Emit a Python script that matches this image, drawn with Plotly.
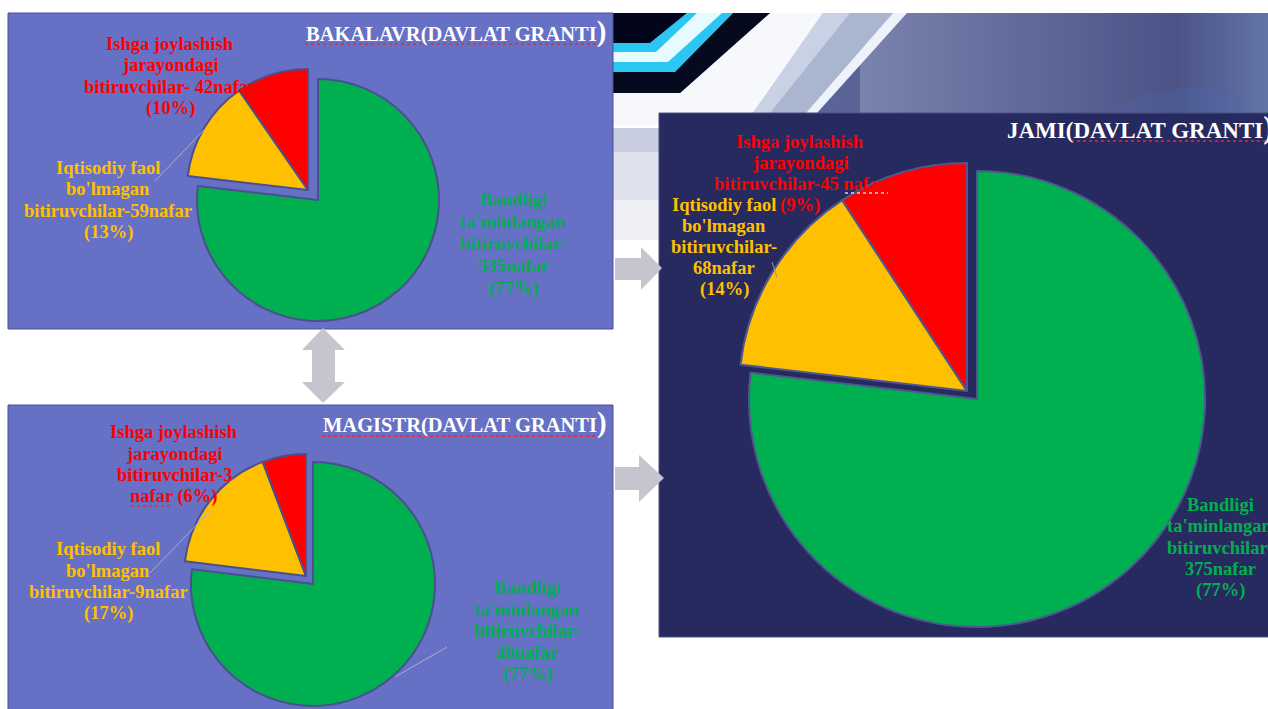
import plotly.graph_objects as go

W, H = 1268, 709

# ---------------- data ----------------
categories = ["Ishga joylashish jarayondagi bitiruvchilar",
              "Iqtisodiy faol bo'lmagan bitiruvchilar",
              "Bandligi ta'minlangan bitiruvchilar"]
bakalavr_values = [42, 59, 335]
magistr_values = [3, 9, 40]
jami_values = [45, 68, 375]

bakalavr_pct = ["10%", "13%", "77%"]
magistr_pct = ["6%", "17%", "77%"]
jami_pct = ["9%", "14%", "77%"]

titles = ["BAKALAVR(DAVLAT GRANTI", "MAGISTR(DAVLAT GRANTI", "JAMI(DAVLAT GRANTI"]

slice_colors = ["#ff0000", "#ffc000", "#00b050"]
text_colors = ["#ff0000", "#ffc000", "#00b050"]

# ---------------- helpers ----------------
def px(x):
    return x / W

def py(y):
    return 1 - y / H

def poly(points, fill, line=None, lw=0, layer="below", opacity=1):
    d = "M " + " L ".join(f"{px(x):.5f},{py(y):.5f}" for x, y in points) + " Z"
    return dict(type="path", xref="paper", yref="paper", path=d,
                fillcolor=fill, line=dict(color=line or fill, width=lw),
                layer=layer, opacity=opacity)

def rect(x0, y0, x1, y1, fill, line=None, lw=0, layer="below", opacity=1):
    return dict(type="rect", xref="paper", yref="paper",
                x0=px(x0), x1=px(x1), y0=py(y1), y1=py(y0),
                fillcolor=fill, line=dict(color=line or fill, width=lw),
                layer=layer, opacity=opacity)

def seg(x0, y0, x1, y1, color, width=1, dash="solid", layer="above"):
    return dict(type="line", xref="paper", yref="paper",
                x0=px(x0), y0=py(y0), x1=px(x1), y1=py(y1),
                line=dict(color=color, width=width, dash=dash), layer=layer)

def lerp_color(c1, c2, t):
    a = [int(c1[i:i + 2], 16) for i in (1, 3, 5)]
    b = [int(c2[i:i + 2], 16) for i in (1, 3, 5)]
    return "#" + "".join(f"{int(round(a[k] + (b[k] - a[k]) * t)):02x}" for k in range(3))

shapes = []

# ---------------- decorative background (tech picture) ----------------
shapes.append(rect(613, 13, 1268, 120, "#5b6496"))
n = 70
x_start = 860
for i in range(n):
    x0 = x_start + i * (1268 - x_start) / n
    x1 = x_start + (i + 1) * (1268 - x_start) / n + 0.8
    t = i / (n - 1)
    if t < 0.78:
        c = lerp_color("#7a82ae", "#4b5387", t / 0.78)
    else:
        c = lerp_color("#4b5387", "#6273a6", (t - 0.78) / 0.22)
    shapes.append(rect(x0, 13, x1, 120, c))
shapes.append(poly([(1110, 113), (1140, 95), (1190, 86), (1235, 93), (1250, 113)],
                   "#5068a8", opacity=0.3))
# light grey-blue band
shapes.append(poly([(823, 13), (893, 13), (810, 113), (753, 113)], "#aab6cf"))
shapes.append(poly([(823, 13), (850, 13), (770, 113), (753, 113)], "#c9d2e4"))
# thin white line
shapes.append(poly([(893, 13), (907, 13), (817, 113), (806, 113)], "#eef2fa"))
# white band
shapes.append(poly([(770, 13), (823, 13), (753, 113), (659, 113), (659, 125),
                    (613, 125), (613, 93), (680, 93)], "#f6f8fc"))
# black band 2
shapes.append(poly([(733, 13), (770, 13), (680, 93), (613, 93), (613, 72), (675, 72)], "#050a1e"))
# black top-left
shapes.append(poly([(613, 13), (687, 13), (650, 43), (613, 43)], "#03061a"))
# cyan band
shapes.append(poly([(687, 13), (733, 13), (675, 72), (613, 72), (613, 43), (650, 43)], "#2cc6f2"))
shapes.append(poly([(697, 13), (722, 13), (668, 62), (613, 62), (613, 52), (656, 52)], "#e6fbff"))
# fading area below picture on the left
shapes.append(rect(613, 128, 659, 152, "#c9cde0"))
shapes.append(rect(613, 152, 659, 200, "#dfe1ec"))
shapes.append(rect(613, 200, 659, 240, "#eff0f6"))

# ---------------- panels ----------------
shapes.append(rect(8, 13, 613, 329, "#6670c4", line="#4b5196", lw=1))
shapes.append(rect(8, 405, 613, 712, "#6670c4", line="#4b5196", lw=1))
shapes.append(rect(659, 113, 1270, 637, "#272a5e", line="#4a4f86", lw=1))

# ---------------- arrows ----------------
arrow_c = "#c4c5cf"
shapes.append(poly([(615, 258), (641, 258), (641, 247), (662, 268), (641, 290),
                    (641, 280), (615, 280)], arrow_c))
shapes.append(poly([(615, 467), (639, 467), (639, 455), (664, 478), (639, 502),
                    (639, 490), (615, 490)], arrow_c))
shapes.append(poly([(323, 328), (345, 350), (335, 350), (335, 382), (345, 382),
                    (323, 403), (302, 382), (312, 382), (312, 350), (302, 350)], arrow_c))

# ---------------- pies ----------------
TR = "rgba(0,0,0,0)"

def add_pie(fig, values, cx, cy, r, dx, dy, bcol):
    # drawn clockwise from 12 o'clock: green, yellow, red
    vals = values[::-1]
    labs = categories[::-1]
    base = dict(values=vals, labels=labs, sort=False, direction="clockwise",
                rotation=0, textinfo="none", hoverinfo="label+value", showlegend=False)
    fig.add_trace(go.Pie(**base,
                         marker=dict(colors=[slice_colors[2], TR, TR],
                                     line=dict(color=[bcol, TR, TR], width=[2, 0, 0])),
                         domain=dict(x=[px(cx - r), px(cx + r)], y=[py(cy + r), py(cy - r)])))
    ex, ey = cx + dx, cy + dy
    fig.add_trace(go.Pie(**base,
                         marker=dict(colors=[TR, slice_colors[1], slice_colors[0]],
                                     line=dict(color=[TR, bcol, bcol], width=[0, 2, 2])),
                         domain=dict(x=[px(ex - r), px(ex + r)], y=[py(ey + r), py(ey - r)])))

fig = go.Figure()
add_pie(fig, bakalavr_values, 318, 200, 121, -10, -10, "#4a4f8e")
add_pie(fig, magistr_values, 313, 584, 122, -7, -8, "#4a4f8e")
add_pie(fig, jami_values, 977, 399, 228, -10, -8, "#4e5790")

# ---------------- leader lines ----------------
lead = "#a9acd0"
shapes.append(seg(155, 181, 204, 130, lead, 1))
shapes.append(seg(150, 573, 209, 512, lead, 1))
shapes.append(seg(395, 677, 447, 647, lead, 1))
shapes.append(seg(772, 262, 777, 277, "#8a8fc0", 1))

# ---------------- spell-check underlines ----------------
wav = "#ff2020"
shapes.append(seg(305, 44, 597, 44, wav, 1.5, "dot"))
shapes.append(seg(322, 436, 597, 436, wav, 1.5, "dot"))
shapes.append(seg(1071, 141, 1268, 141, wav, 1.5, "dot"))
shapes.append(seg(131, 506, 172, 506, wav, 1.5, "dot"))
shapes.append(seg(845, 193, 888, 193, "#d8d8e8", 1.5, "dot"))

# ---------------- labels ----------------
FONT = "Liberation Serif"

def label_lines(values, pct, split_yellow, red_style):
    red = ["Ishga joylashish", "jarayondagi"] + red_style(values[0], pct[0])
    if split_yellow:
        yellow = ["Iqtisodiy faol", "bo'lmagan", "bitiruvchilar-", f"{values[1]}nafar", f"({pct[1]})"]
    else:
        yellow = ["Iqtisodiy faol", "bo'lmagan", f"bitiruvchilar-{values[1]}nafar", f"({pct[1]})"]
    green = ["Bandligi", "ta'minlangan", "bitiruvchilar-", f"{values[2]}nafar", f"({pct[2]})"]
    return [red, yellow, green]

bak = label_lines(bakalavr_values, bakalavr_pct, False,
                  lambda v, p: [f"bitiruvchilar- {v}nafar", f"({p})"])
mag = label_lines(magistr_values, magistr_pct, False,
                  lambda v, p: [f"bitiruvchilar-{v}", f"nafar ({p})"])
jam = label_lines(jami_values, jami_pct, True,
                  lambda v, p: [f"bitiruvchilar-{v} nafar", f"({p})"])

annotations = []

def lab(lines, x, y_first, color, size=18.5, step=21.5):
    for k, line in enumerate(lines):
        annotations.append(dict(text=line, x=px(x), y=py(y_first + k * step),
                                xref="paper", yref="paper",
                                xanchor="center", yanchor="middle", align="center",
                                showarrow=False,
                                font=dict(family=FONT, size=size, color=color, weight="bold")))

lab(bak[0], 170, 44, text_colors[0])
lab(bak[1], 108, 168, text_colors[1])
lab(bak[2], 513, 200, text_colors[2], step=22)

lab(mag[0], 174, 432, text_colors[0])
lab(mag[1], 108, 549, text_colors[1])
lab(mag[2], 527, 588, text_colors[2])

lab(jam[0], 800, 142, text_colors[0], step=21)
lab(jam[1], 724, 205, text_colors[1], step=21)
lab(jam[2], 1220, 505, text_colors[2], step=21.25)

def title(text, x, y, size, psize):
    annotations.append(dict(text=text + f"<span style='font-size:{psize}px'>)</span>",
                            x=px(x), y=py(y), xref="paper", yref="paper",
                            xanchor="left", yanchor="middle", showarrow=False,
                            font=dict(family=FONT, size=size, color="white", weight="bold")))

title(titles[0], 304, 31, 20.5, 29)
title(titles[1], 321, 422, 20.5, 29)
title(titles[2], 1005, 128, 23, 31)

fig.update_layout(width=W, height=H, margin=dict(l=0, r=0, t=0, b=0),
                  paper_bgcolor="white", plot_bgcolor="white",
                  shapes=shapes, annotations=annotations)

fig.write_html("out.html", config={"displayModeBar": False},
               post_script="document.body.style.margin='0';document.body.style.overflow='hidden';")
